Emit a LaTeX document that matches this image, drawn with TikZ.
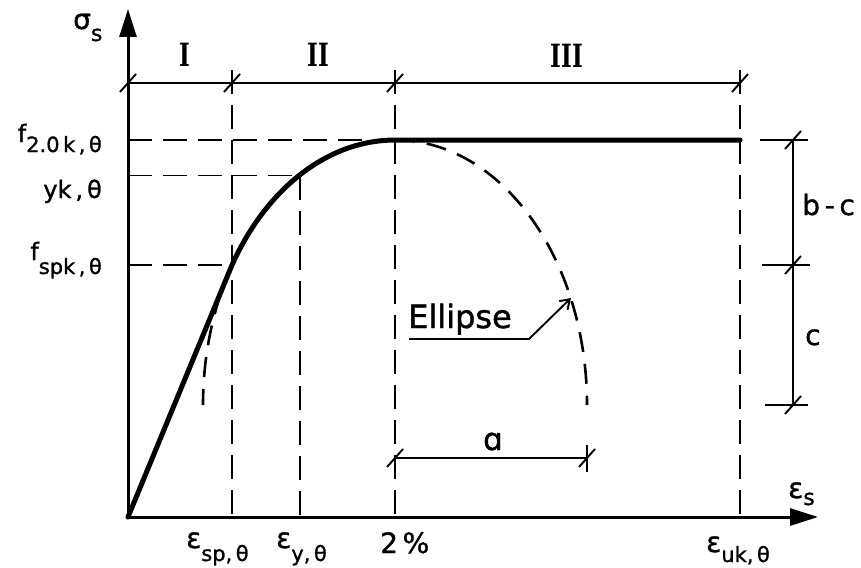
\documentclass[tikz,border=0pt]{standalone}
\usepackage{fontspec}
\setsansfont{DejaVu Sans}[FakeBold=1.2]
\newfontfamily\romfont{DejaVu Serif}
\usetikzlibrary{arrows.meta}
\newcommand\lsub[3]{\raisebox{-#1pt}{\fontsize{#2}{#2}\selectfont #3}}
\tikzset{
 axisline/.style={line width=3pt, -{Triangle[length=28pt,width=17pt]}},
 dimline/.style={line width=1.9pt},
 guide/.style={line width=1.9pt, dash pattern=on 24pt off 11pt},
 curveline/.style={line width=5pt, line cap=round},
 ellline/.style={line width=2.6pt, dash pattern=on 20pt off 12pt},
 tickstyle/.style={line width=1.9pt},
 dtick/.pic={\draw[tickstyle] (-8,9) -- (8,-9);},
 lbl/.style={font=\sffamily\fontsize{24}{26}\selectfont, inner sep=0pt},
 biglbl/.style={font=\sffamily\fontsize{28}{30}\selectfont, inner sep=0pt},
 roman/.style={font=\romfont\bfseries\fontsize{32}{32}\selectfont, inner sep=0pt},
}
\begin{document}
\begin{tikzpicture}[x=1pt,y=-1pt]
\useasboundingbox (0,0) rectangle (861,567);
% key coordinates
\coordinate (O) at (128,517);
\coordinate (Ytip) at (128,9);
\coordinate (Xtip) at (818,517);
\coordinate (T0) at (128,83);
\coordinate (T1) at (232,83);
\coordinate (T2) at (395,83);
\coordinate (T3) at (740,83);
\coordinate (V1) at (232,70);
\coordinate (V2) at (395,70);
\coordinate (V3) at (740,70);
\coordinate (B1) at (232,517);
\coordinate (B2) at (300,517);
\coordinate (B3) at (395,517);
\coordinate (B4) at (740,517);
\coordinate (P1) at (232,265);
\coordinate (PY) at (300,175.5);
\coordinate (P2) at (395,140);
\coordinate (P3) at (740,140);
\coordinate (L1) at (128,140);
\coordinate (L2) at (128,175.5);
\coordinate (L3) at (128,265);
% guides
\draw[guide] (V1) -- (B1);
\draw[guide] (V2) -- (B3);
\draw[guide] (V3) -- (B4);
\draw[guide] (PY) -- (B2);
\draw[guide] (L1) -- (P2);
\draw[guide] (L2) -- (PY);
\draw[guide] (L3) -- (P1);
% axes
\draw[axisline] (O) -- (Ytip);
\draw[axisline] (O) -- (Xtip);
% top dimension
\draw[dimline] (T0) -- (T3);
\foreach \p in {T0,T1,T2,T3} \pic at (\p) {dtick};
% curve
\draw[curveline] (O) -- (P1) arc[start angle=148.1, end angle=90, x radius=192pt, y radius=265pt] -- (P3);
\draw[ellline] (P1) arc[start angle=148.1, end angle=180, x radius=192pt, y radius=265pt];
\draw[ellline] (P2) arc[start angle=90, end angle=0, x radius=192pt, y radius=265pt];
% ellipse label
\coordinate (E0) at (409,339);
\coordinate (E1) at (529,339);
\coordinate (E2) at (571,298);
\draw[dimline, -{Straight Barb[length=9pt,width=12pt]}] (E0) -- (E1) -- (E2);
\node[font=\sffamily\fontsize{32}{34}\selectfont, inner sep=0pt, anchor=base west] (ell) at (408,328) {Ellipse};
% bottom dimension a
\coordinate (A1) at (395,458);
\coordinate (A2) at (587,458);
\coordinate (A2t) at (587,445);
\coordinate (A2b) at (587,472);
\draw[dimline] (A1) -- (A2);
\draw[dimline] (A2t) -- (A2b);
\pic at (A1) {dtick};
\pic at (A2) {dtick};
\node[font=\sffamily\fontsize{31}{32}\selectfont, inner sep=0pt, anchor=base] (la) at (493,450) {ɑ};
% right dimension
\coordinate (R0) at (793,140);
\coordinate (R1) at (793,265);
\coordinate (R2) at (793,405);
\coordinate (S0a) at (760,140);
\coordinate (S0b) at (808,140);
\coordinate (S1a) at (762,265);
\coordinate (S1b) at (810,265);
\coordinate (S2a) at (765,405);
\coordinate (S2b) at (808,405);
\draw[dimline] (R0) -- (R2);
\draw[dimline] (S0a) -- (S0b);
\draw[dimline] (S1a) -- (S1b);
\draw[dimline] (S2a) -- (S2b);
\foreach \p in {R0,R1,R2} \pic at (\p) {dtick};
\node[biglbl, anchor=base west] (lbc) at (802,215) {b\,-\,c};
\node[biglbl, anchor=base west] (lc) at (805,345) {c};
% regions
\node[roman] (r1) at (185,55) {\scalebox{0.72}[1]{I}};
\node[roman] (r2) at (318,55) {\scalebox{0.72}[1]{II}};
\node[roman] (r3) at (567,56) {\scalebox{0.72}[1]{III}};
% axis labels
\node[biglbl, anchor=base west] (sig) at (73,29) {σ\lsub{12}{22}{s}};
\node[biglbl, anchor=base west] (eps) at (788,498) {ε\lsub{7}{22}{s}};
% left labels
\node[lbl, anchor=base east] (f20) at (102,142) {f\lsub{10}{21}{2.0\,k\,,\,θ}};
\node[lbl, anchor=base east] (fyk) at (102,198) {yk\,,\,θ};
\node[lbl, anchor=base east] (fsp) at (102,260) {f\lsub{14}{21}{spk\,,\,θ}};
% bottom labels
\node[biglbl, anchor=base west] (esp) at (186,548) {ε\lsub{13}{21}{sp,\,θ}};
\node[biglbl, anchor=base west] (ey) at (276,548) {ε\lsub{13}{21}{y,\,θ}};
\node[biglbl, anchor=base west] (e2) at (380,553) {2\,\%};
\node[biglbl, anchor=base west] (euk) at (706,552) {ε\lsub{10}{21}{uk,\,θ}};
\end{tikzpicture}
\end{document}
